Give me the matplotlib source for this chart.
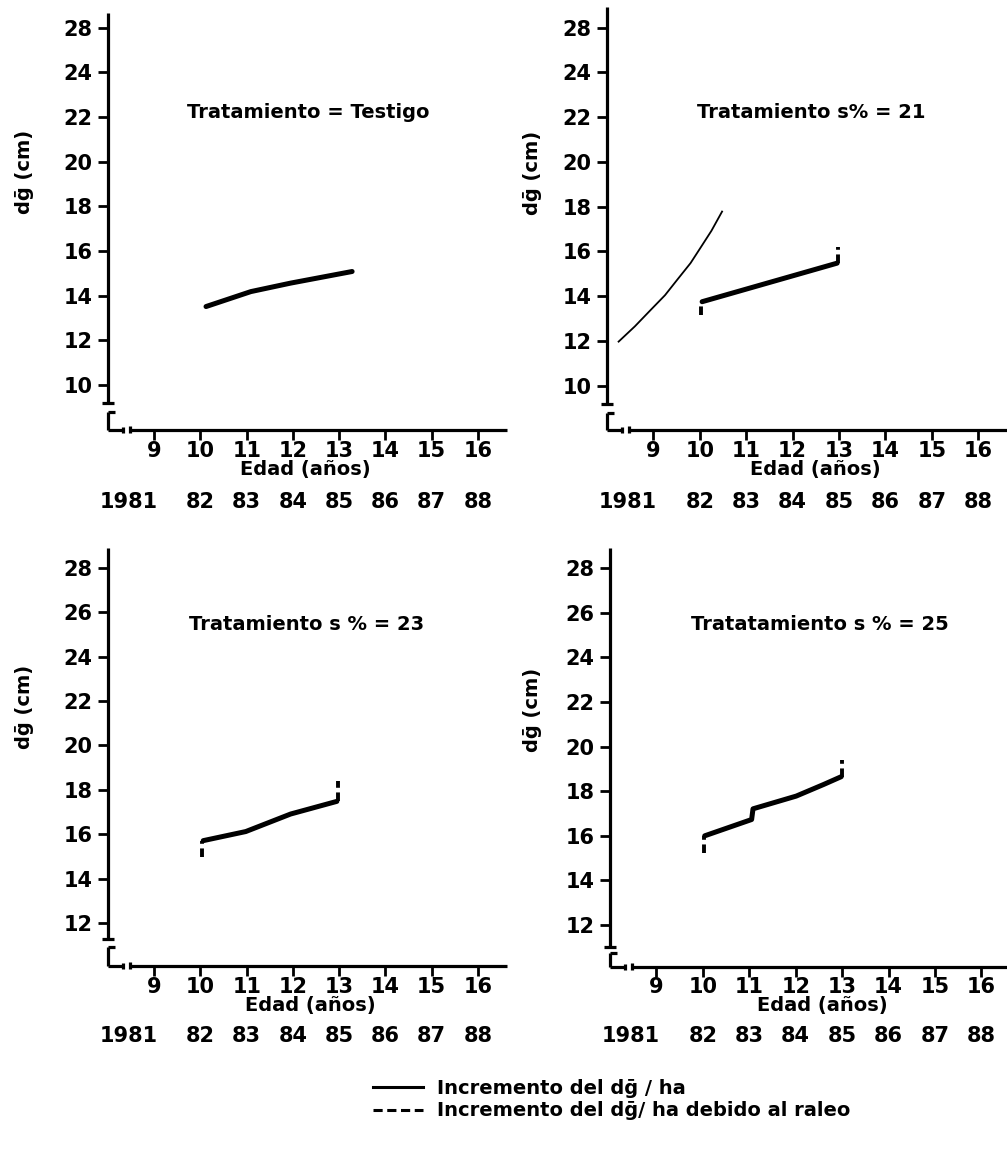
import numpy as np
import matplotlib
matplotlib.use("Agg")
import matplotlib.pyplot as plt
from matplotlib.lines import Line2D

plt.rcParams['font.family'] = ['DejaVu Sans']
plt.rcParams['font.weight'] = 'bold'

W, H = 1007, 1154

# edad (años) en el eje x, dg (cm) en el eje y
age_ticks = [9, 10, 11, 12, 13, 14, 15, 16]
year_labels = ['1981', '82', '83', '84', '85', '86', '87', '88']
year_pos = [8.45, 10, 11, 12, 13, 14, 15, 16]

titles = ['Tratamiento = Testigo', 'Tratamiento s% = 21',
          'Tratamiento s % = 23', 'Tratatamiento s % = 25']

# Testigo
t_age = [10.12, 11.09, 11.95, 13.28]
t_dg = [13.51, 14.18, 14.56, 15.08]

# s% = 21
s21_age = [10.05, 12.96]
s21_dg = [13.76, 15.48]
s21_cut_age = [10.03, 12.98]
s21_cut_lo = [13.17, 15.48]
s21_cut_hi = [13.76, 16.22]
s21_curve_age = [8.25, 8.6, 8.94, 9.25, 9.51, 9.8, 10.01, 10.25, 10.48]
s21_curve_dg = [11.98, 12.66, 13.39, 14.05, 14.73, 15.48, 16.15, 16.92, 17.78]

# s% = 23
s23_age = [10.06, 10.98, 11.95, 12.95]
s23_dg = [15.71, 16.12, 16.91, 17.48]
s23_cut_age = [10.03, 12.98]
s23_cut_lo = [14.96, 17.48]
s23_cut_hi = [15.71, 18.4]

# s% = 25
s25_age = [10.04, 11.05, 11.08, 12.01, 12.6, 12.98]
s25_dg = [16.0, 16.73, 17.21, 17.78, 18.3, 18.65]
s25_cut_age = [10.02, 12.99]
s25_cut_lo = [15.24, 18.65]
s25_cut_hi = [16.0, 19.4]


def box(x0, y0, x1, y1):
    return [x0 / W, 1 - y1 / H, (x1 - x0) / W, (y1 - y0) / H]


fig = plt.figure(figsize=(W / 100, H / 100), dpi=100)

panels = [
    dict(box=(108, 13, 507, 430), xlim=(8, 16.63), ylim=(7.98, 26.66),
         yt=[10, 12, 14, 16, 18, 20, 22, 24, 26.0],
         ytl=['10', '12', '14', '16', '18', '20', '22', '24', '28'],
         brk=(9.19, 8.79), title=(308, 113), ylab=(25, 172),
         xlab=(305, 470), tick_y=451, year_y=502),
    dict(box=(607, 7, 1007, 430), xlim=(8, 16.62), ylim=(8.04, 26.9),
         yt=[10, 12, 14, 16, 18, 20, 22, 24, 25.97],
         ytl=['10', '12', '14', '16', '18', '20', '22', '24', '28'],
         brk=(9.2, 8.8), title=(811, 112), ylab=(532, 173),
         xlab=(815, 470), tick_y=451, year_y=502),
    dict(box=(108, 548, 507, 966), xlim=(8, 16.63), ylim=(10.06, 28.9),
         yt=[12, 14, 16, 18, 20, 22, 24, 26, 28],
         ytl=['12', '14', '16', '18', '20', '22', '24', '26', '28'],
         brk=(11.28, 10.92), title=(307, 625), ylab=(25, 707),
         xlab=(310, 1005), tick_y=987, year_y=1036),
    dict(box=(610, 548, 1007, 967), xlim=(8, 16.55), ylim=(10.12, 28.9),
         yt=[12, 14, 16, 18, 20, 22, 24, 26, 28],
         ytl=['12', '14', '16', '18', '20', '22', '24', '26', '28'],
         brk=(11.01, 10.74), title=(820, 625), ylab=(533, 710),
         xlab=(822, 1005), tick_y=987, year_y=1036),
]

fs = 15
axes = []
for i, p in enumerate(panels):
    ax = fig.add_axes(box(*p['box']))
    ax.set_xlim(*p['xlim'])
    ax.set_ylim(*p['ylim'])
    for s in ax.spines.values():
        s.set_visible(False)
    ax.set_yticks(p['yt'])
    ax.set_yticklabels(p['ytl'], fontsize=fs, fontweight='bold')
    ax.set_xticks(age_ticks)
    ax.set_xticklabels([])
    ax.tick_params(axis='both', direction='out', length=7, width=2, color='black')
    ax.tick_params(axis='y', pad=4)

    # ejes dibujados a mano con los cortes
    y0, y1 = p['ylim']
    b1, b2 = p['brk']
    kw = dict(color='black', lw=2.3, clip_on=False, solid_capstyle='butt')
    ax.plot([8, 8], [b1, y1], **kw)
    ax.plot([8, 8], [b2, y0], **kw)
    ax.plot([7.88, 8.13], [b1, b1], **kw)
    ax.plot([8.0, 8.15], [b2, b2], **kw)
    ax.plot([8, 8.32], [y0, y0], **kw)
    ax.plot([8.47, p['xlim'][1]], [y0, y0], **kw)
    ax.plot([8.32, 8.32], [y0 - 0.15, y0 + 0.15], **kw)
    ax.plot([8.47, 8.47], [y0 - 0.15, y0 + 0.2], **kw)

    fig.text(p['title'][0] / W, 1 - p['title'][1] / H, titles[i],
             ha='center', va='center', fontsize=14, fontweight='bold')
    fig.text(p['ylab'][0] / W, 1 - p['ylab'][1] / H, 'dḡ (cm)', rotation=90,
             ha='center', va='center', fontsize=14, fontweight='bold')
    fig.text(p['xlab'][0] / W, 1 - p['xlab'][1] / H, 'Edad (años)',
             ha='center', va='center', fontsize=14, fontweight='bold')
    tr = matplotlib.transforms.blended_transform_factory(ax.transData, fig.transFigure)
    for a in age_ticks:
        ax.text(a, 1 - p['tick_y'] / H, str(a), transform=tr, ha='center',
                va='center', fontsize=fs, fontweight='bold')
    for a, lab in zip(year_pos, year_labels):
        ax.text(a, 1 - p['year_y'] / H, lab, transform=tr, ha='center',
                va='center', fontsize=fs, fontweight='bold')
    axes.append(ax)

lw_thick = 3.6
dash = (0, (2.2, 1.2))

axes[0].plot(t_age, t_dg, color='black', lw=lw_thick, solid_capstyle='round')

axes[1].plot(s21_curve_age, s21_curve_dg, color='black', lw=1.3)
axes[1].plot(s21_age, s21_dg, color='black', lw=lw_thick, solid_capstyle='round')
axes[1].vlines(s21_cut_age, s21_cut_lo, s21_cut_hi, color='black', lw=2.8, linestyles=[dash])

axes[2].plot(s23_age, s23_dg, color='black', lw=lw_thick, solid_capstyle='round')
axes[2].vlines(s23_cut_age, s23_cut_lo, s23_cut_hi, color='black', lw=2.8, linestyles=[dash])

axes[3].plot(s25_age, s25_dg, color='black', lw=lw_thick, solid_capstyle='round')
axes[3].vlines(s25_cut_age, s25_cut_lo, s25_cut_hi, color='black', lw=2.8, linestyles=[dash])

handles = [Line2D([], [], color='black', lw=2.2),
           Line2D([], [], color='black', lw=2.2, ls=(0, (3, 1.5)))]
fig.legend(handles, ['Incremento del dḡ / ha', 'Incremento del dḡ/ ha debido al raleo'],
           loc='upper left', bbox_to_anchor=(355 / W, 1 - 1061 / H), frameon=False,
           handlelength=2.6, handletextpad=0.7, labelspacing=0.2,
           prop=dict(size=14, weight='bold'))

fig.savefig('out.png', dpi=100)
